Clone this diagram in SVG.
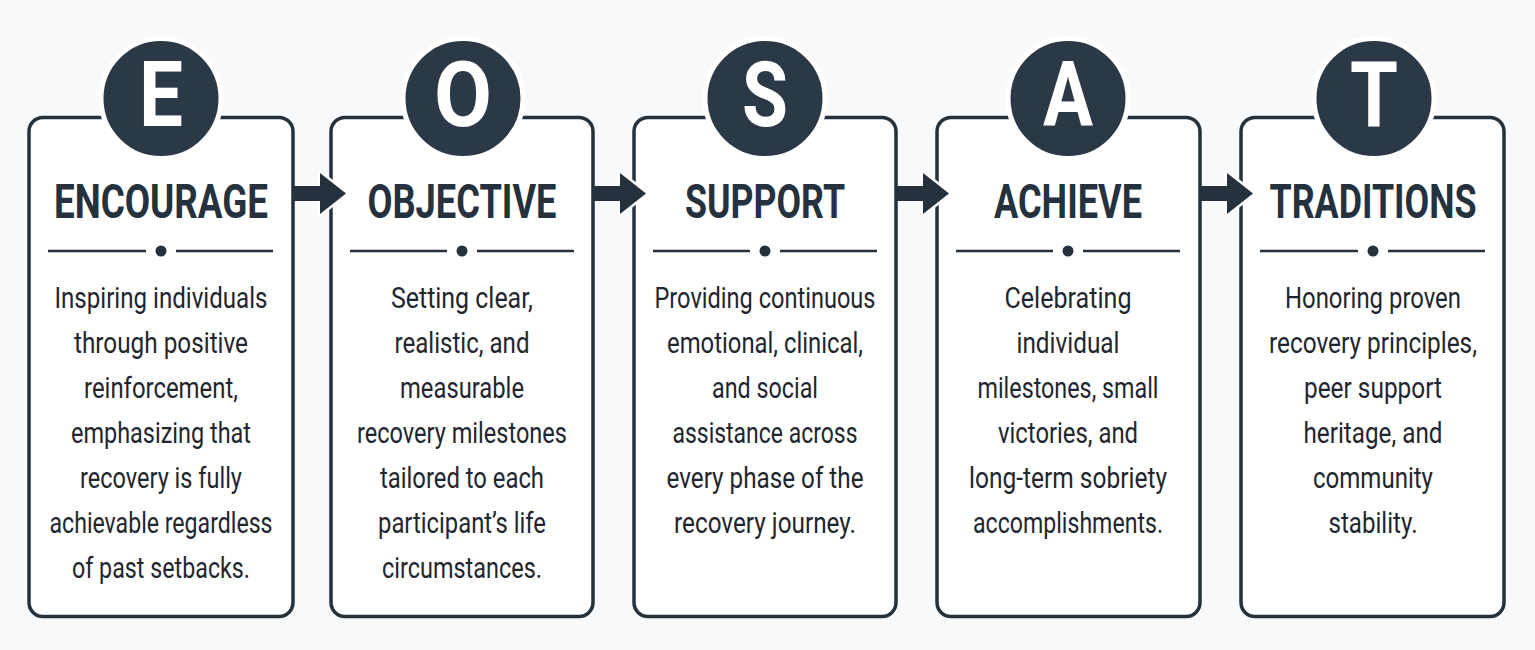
<svg xmlns="http://www.w3.org/2000/svg" xmlns:xlink="http://www.w3.org/1999/xlink" width="1535" height="650" viewBox="0 0 1535 650">
<style>
.card{fill:#ffffff;stroke:#25313d;stroke-width:3.5}
.badge{fill:#2b3947;stroke:#ffffff;stroke-width:5}
.letter{font-family:Roboto,"Liberation Sans",sans-serif;font-weight:700;font-size:90px;fill:#ffffff;text-anchor:middle}
.title{font-family:Roboto,"Liberation Sans",sans-serif;font-weight:700;font-size:48px;fill:#25313d;text-anchor:middle}
.body{font-family:Roboto,"Liberation Sans",sans-serif;font-weight:400;font-size:29px;fill:#1f262e;text-anchor:middle}
.rule{stroke:#25313d;stroke-width:2.5}
.dot{fill:#25313d}
.arrow{fill:#25313d}
.halo{fill:#ffffff;stroke:#ffffff;stroke-width:5;stroke-linejoin:round}
</style>
<defs>
<g id="arr">
<polygon class="halo" points="27,173 53,193.5 27,214"/>
<rect class="arrow" x="0" y="186" width="29" height="15"/>
<polygon class="arrow" points="27,173 53,193.5 27,214"/>
</g>
</defs>
<rect x="0" y="0" width="1535" height="650" fill="#f8f9fa"/>

<g id="node-encourage">
<rect class="card" x="29" y="117.5" width="264" height="499" rx="14"/>
<circle class="badge" cx="161" cy="98.5" r="60"/>
<text class="letter" x="161" y="126" textLength="44" lengthAdjust="spacingAndGlyphs">E</text>
<text class="title" x="161" y="218" textLength="214" lengthAdjust="spacingAndGlyphs">ENCOURAGE</text>
<line class="rule" x1="48" y1="251" x2="146" y2="251"/>
<circle class="dot" cx="161" cy="251" r="5.5"/>
<line class="rule" x1="176" y1="251" x2="273" y2="251"/>
<text class="body" x="161" y="308" textLength="213" lengthAdjust="spacingAndGlyphs">Inspiring individuals</text>
<text class="body" x="161" y="353" textLength="174" lengthAdjust="spacingAndGlyphs">through positive</text>
<text class="body" x="161" y="398" textLength="154" lengthAdjust="spacingAndGlyphs">reinforcement,</text>
<text class="body" x="161" y="443" textLength="180" lengthAdjust="spacingAndGlyphs">emphasizing that</text>
<text class="body" x="161" y="488" textLength="162" lengthAdjust="spacingAndGlyphs">recovery is fully</text>
<text class="body" x="161" y="533" textLength="223" lengthAdjust="spacingAndGlyphs">achievable regardless</text>
<text class="body" x="161" y="578" textLength="178" lengthAdjust="spacingAndGlyphs">of past setbacks.</text>
</g>

<g id="node-objective">
<rect class="card" x="331" y="117.5" width="262" height="499" rx="14"/>
<circle class="badge" cx="463" cy="98.5" r="60"/>
<text class="letter" x="463" y="126" textLength="58" lengthAdjust="spacingAndGlyphs">O</text>
<text class="title" x="462" y="218" textLength="189" lengthAdjust="spacingAndGlyphs">OBJECTIVE</text>
<line class="rule" x1="350" y1="251" x2="447" y2="251"/>
<circle class="dot" cx="462" cy="251" r="5.5"/>
<line class="rule" x1="477" y1="251" x2="574" y2="251"/>
<text class="body" x="462" y="308" textLength="142" lengthAdjust="spacingAndGlyphs">Setting clear,</text>
<text class="body" x="462" y="353" textLength="135" lengthAdjust="spacingAndGlyphs">realistic, and</text>
<text class="body" x="462" y="398" textLength="124" lengthAdjust="spacingAndGlyphs">measurable</text>
<text class="body" x="462" y="443" textLength="210" lengthAdjust="spacingAndGlyphs">recovery milestones</text>
<text class="body" x="462" y="488" textLength="164" lengthAdjust="spacingAndGlyphs">tailored to each</text>
<text class="body" x="462" y="533" textLength="168" lengthAdjust="spacingAndGlyphs">participant’s life</text>
<text class="body" x="462" y="578" textLength="160" lengthAdjust="spacingAndGlyphs">circumstances.</text>
</g>

<g id="node-support">
<rect class="card" x="634" y="117.5" width="262" height="499" rx="14"/>
<circle class="badge" cx="765" cy="98.5" r="60"/>
<text class="letter" x="765" y="126" textLength="46" lengthAdjust="spacingAndGlyphs">S</text>
<text class="title" x="765" y="218" textLength="160" lengthAdjust="spacingAndGlyphs">SUPPORT</text>
<line class="rule" x1="653" y1="251" x2="750" y2="251"/>
<circle class="dot" cx="765" cy="251" r="5.5"/>
<line class="rule" x1="780" y1="251" x2="877" y2="251"/>
<text class="body" x="765" y="308" textLength="221" lengthAdjust="spacingAndGlyphs">Providing continuous</text>
<text class="body" x="765" y="353" textLength="196" lengthAdjust="spacingAndGlyphs">emotional, clinical,</text>
<text class="body" x="765" y="398" textLength="106" lengthAdjust="spacingAndGlyphs">and social</text>
<text class="body" x="765" y="443" textLength="185" lengthAdjust="spacingAndGlyphs">assistance across</text>
<text class="body" x="765" y="488" textLength="197" lengthAdjust="spacingAndGlyphs">every phase of the</text>
<text class="body" x="765" y="533" textLength="182" lengthAdjust="spacingAndGlyphs">recovery journey.</text>
</g>

<g id="node-achieve">
<rect class="card" x="937" y="117.5" width="263" height="499" rx="14"/>
<circle class="badge" cx="1068" cy="98.5" r="60"/>
<text class="letter" x="1068" y="126" textLength="50" lengthAdjust="spacingAndGlyphs">A</text>
<text class="title" x="1068" y="218" textLength="148" lengthAdjust="spacingAndGlyphs">ACHIEVE</text>
<line class="rule" x1="956" y1="251" x2="1053" y2="251"/>
<circle class="dot" cx="1068" cy="251" r="5.5"/>
<line class="rule" x1="1083" y1="251" x2="1180" y2="251"/>
<text class="body" x="1068" y="308" textLength="127" lengthAdjust="spacingAndGlyphs">Celebrating</text>
<text class="body" x="1068" y="353" textLength="103" lengthAdjust="spacingAndGlyphs">individual</text>
<text class="body" x="1068" y="398" textLength="181" lengthAdjust="spacingAndGlyphs">milestones, small</text>
<text class="body" x="1068" y="443" textLength="140" lengthAdjust="spacingAndGlyphs">victories, and</text>
<text class="body" x="1068" y="488" textLength="198" lengthAdjust="spacingAndGlyphs">long-term sobriety</text>
<text class="body" x="1068" y="533" textLength="190" lengthAdjust="spacingAndGlyphs">accomplishments.</text>
</g>

<g id="node-traditions">
<rect class="card" x="1241" y="117.5" width="263" height="499" rx="14"/>
<circle class="badge" cx="1374" cy="98.5" r="60"/>
<text class="letter" x="1374" y="126" textLength="48" lengthAdjust="spacingAndGlyphs">T</text>
<text class="title" x="1373" y="218" textLength="207" lengthAdjust="spacingAndGlyphs">TRADITIONS</text>
<line class="rule" x1="1260" y1="251" x2="1358" y2="251"/>
<circle class="dot" cx="1373" cy="251" r="5.5"/>
<line class="rule" x1="1388" y1="251" x2="1485" y2="251"/>
<text class="body" x="1373" y="308" textLength="176" lengthAdjust="spacingAndGlyphs">Honoring proven</text>
<text class="body" x="1373" y="353" textLength="208" lengthAdjust="spacingAndGlyphs">recovery principles,</text>
<text class="body" x="1373" y="398" textLength="138" lengthAdjust="spacingAndGlyphs">peer support</text>
<text class="body" x="1373" y="443" textLength="139" lengthAdjust="spacingAndGlyphs">heritage, and</text>
<text class="body" x="1373" y="488" textLength="120" lengthAdjust="spacingAndGlyphs">community</text>
<text class="body" x="1373" y="533" textLength="89" lengthAdjust="spacingAndGlyphs">stability.</text>
</g>

<g id="connectors">
<use xlink:href="#arr" x="293" y="0"/>
<use xlink:href="#arr" x="593" y="0"/>
<use xlink:href="#arr" x="896" y="0"/>
<use xlink:href="#arr" x="1200" y="0"/>
</g>
</svg>
